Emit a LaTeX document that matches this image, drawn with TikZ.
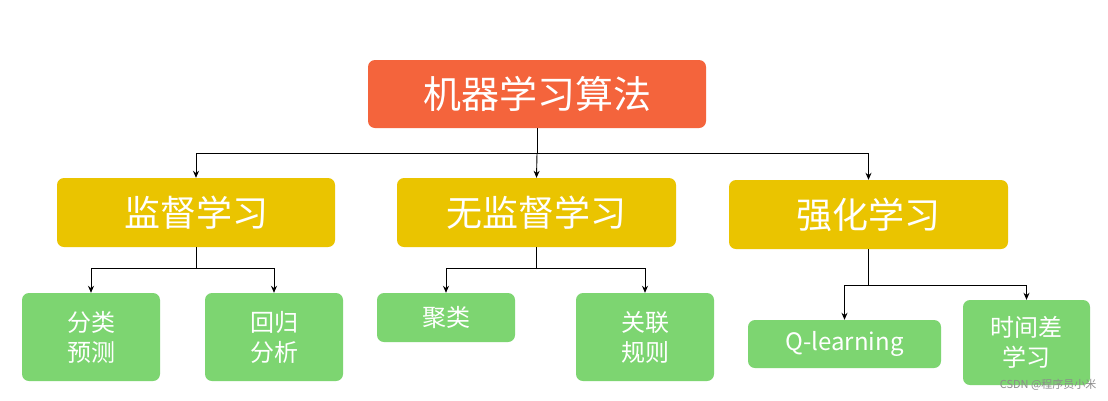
\documentclass[tikz,border=0pt]{standalone}
\usepackage{fontspec}
\setmainfont{Noto Sans CJK SC}
\usetikzlibrary{arrows.meta}
\definecolor{topc}{HTML}{F4643C}
\definecolor{midc}{HTML}{EAC400}
\definecolor{leafc}{HTML}{7DD571}
\tikzset{
  box/.style={rounded corners=7pt,inner sep=0pt,text=white,align=center},
  topbox/.style={box,fill=topc,font=\fontsize{38}{40}\selectfont},
  midbox/.style={box,fill=midc,font=\fontsize{36}{38}\selectfont},
  leafbox/.style={box,fill=leafc,font=\fontsize{24}{30}\selectfont},
  conn/.style={line width=0.9pt,-{Stealth[length=7pt,width=6pt]}},
  seg/.style={line width=0.9pt}
}
\begin{document}
\begin{tikzpicture}[x=1pt,y=-1pt]
\useasboundingbox[fill=white] (0,0) rectangle (1108,400);
\node[topbox,minimum width=338pt,minimum height=68pt] (top) at (537,94) {机器学习算法};
\node[midbox,minimum width=278pt,minimum height=69pt] (sup) at (196,212.5) {监督学习};
\node[midbox,minimum width=279pt,minimum height=69pt] (uns) at (536.5,212.5) {无监督学习};
\node[midbox,minimum width=279pt,minimum height=69pt] (rl) at (868.5,214.5) {强化学习};
\node[leafbox,minimum width=138pt,minimum height=88pt] (fl) at (91,337) {分类\\预测};
\node[leafbox,minimum width=138pt,minimum height=88pt] (hg) at (274,337) {回归\\分析};
\node[leafbox,minimum width=138pt,minimum height=49pt] (jl) at (446,317.5) {聚类};
\node[leafbox,minimum width=138pt,minimum height=88pt] (gl) at (645,337) {关联\\规则};
\node[leafbox,minimum width=193pt,minimum height=48pt] (ql) at (844.5,344) {Q-learning};
\node[leafbox,minimum width=127pt,minimum height=85pt] (sj) at (1026.5,342.5) {时间差\\学习};
\node[text=black!45,font=\fontsize{11}{12}\selectfont,anchor=east] (wm) at (1100,385) {CSDN @程序员小米};
% top level
\coordinate (t1) at (537,153);
\draw[seg] (top.south) -- (t1);
\draw[conn] (t1) -| (sup.north);
\draw[conn] (t1) -- (uns.north);
\draw[conn] (t1) -| (rl.north);
% supervised
\coordinate (s1) at (196,268);
\draw[seg] (sup.south) -- (s1);
\draw[conn] (s1) -| (fl.north);
\draw[conn] (s1) -| (hg.north);
% unsupervised
\coordinate (u1) at (536.5,268);
\draw[seg] (uns.south) -- (u1);
\draw[conn] (u1) -| (jl.north);
\draw[conn] (u1) -| (gl.north);
% reinforcement
\coordinate (r1) at (868.5,285);
\draw[seg] (rl.south) -- (r1);
\draw[conn] (r1) -| (ql.north);
\draw[conn] (r1) -| (sj.north);
\end{tikzpicture}
\end{document}
